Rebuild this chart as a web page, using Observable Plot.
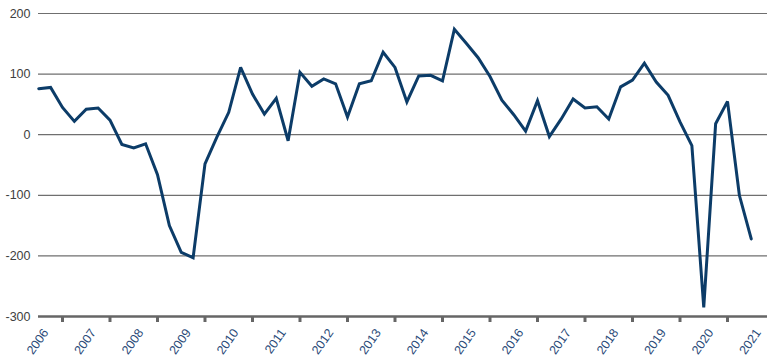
<!DOCTYPE html>
<html>
<head>
<meta charset="utf-8">
<script src="https://cdn.jsdelivr.net/npm/d3@7"></script>
<script src="https://cdn.jsdelivr.net/npm/@observablehq/plot@0.6"></script>
<style>
  html, body { margin: 0; padding: 0; background: #fff; }
  #chart svg { display: block; }
</style>
</head>
<body>
<div id="chart"></div>
<script>
const quarters = [
  "2006Q3","2006Q4",
  "2007Q1","2007Q2","2007Q3","2007Q4",
  "2008Q1","2008Q2","2008Q3","2008Q4",
  "2009Q1","2009Q2","2009Q3","2009Q4",
  "2010Q1","2010Q2","2010Q3","2010Q4",
  "2011Q1","2011Q2","2011Q3","2011Q4",
  "2012Q1","2012Q2","2012Q3","2012Q4",
  "2013Q1","2013Q2","2013Q3","2013Q4",
  "2014Q1","2014Q2","2014Q3","2014Q4",
  "2015Q1","2015Q2","2015Q3","2015Q4",
  "2016Q1","2016Q2","2016Q3","2016Q4",
  "2017Q1","2017Q2","2017Q3","2017Q4",
  "2018Q1","2018Q2","2018Q3","2018Q4",
  "2019Q1","2019Q2","2019Q3","2019Q4",
  "2020Q1","2020Q2","2020Q3","2020Q4",
  "2021Q1","2021Q2","2021Q3"
];
const values = [
  76, 78,
  45, 22, 42, 44,
  24, -16, -22, -15,
  -66, -150, -194, -203,
  -48, -4, 37, 111,
  67, 34, 60, -10,
  103, 80, 92, 84,
  29, 84, 89, 136,
  111, 54, 97, 98,
  89, 174, 151, 127,
  96, 57, 33, 6,
  56, -3, 26, 59,
  44, 46, 26, 79,
  90, 118, 87, 65,
  21, -18, -285, 18,
  55, -100, -172
];
const yearLabels = ["2006","2007","2008","2009","2010","2011","2012","2013","2014","2015","2016","2017","2018","2019","2020","2021"];
const yearTicks = [2007,2008,2009,2010,2011,2012,2013,2014,2015,2016,2017,2018,2019,2020,2021];
const yTicks = [200, 100, 0, -100, -200, -300];

const toNum = q => +q.slice(0, 4) + (+q.slice(5) - 1) / 4;
const data = quarters.map((q, i) => ({t: toNum(q), v: values[i]}));
const labelData = yearLabels.map(s => ({t: +s + 0.5, s}));

const chart = Plot.plot({
  width: 770,
  height: 364,
  marginLeft: 38,
  marginRight: 3,
  marginTop: 13,
  marginBottom: 48,
  style: {fontFamily: "'Liberation Sans', Arial, sans-serif", fontSize: "12px", background: "#fff"},
  x: {domain: [2006.495, 2021.842], axis: null},
  y: {domain: [-300, 200], axis: null},
  marks: [
    Plot.ruleY(yTicks.filter(d => d > -300), {stroke: "#6f6f6f", strokeWidth: 1.2}),
    Plot.axisY({ticks: yTicks, label: null, tickSize: 0, tickPadding: 8, fill: "#404040", fontSize: 12.5, tickFormat: d => String(d)}),
    Plot.ruleY([-300], {stroke: "#666", strokeWidth: 2.6}),
    Plot.axisX({ticks: yearTicks, label: null, tickSize: 6, stroke: "#666", strokeWidth: 3, tickFormat: () => "", anchor: "bottom"}),
    Plot.text(labelData, {
      x: "t", text: "s", frameAnchor: "bottom", dy: 11, dx: 3,
      rotate: -55, textAnchor: "end", lineAnchor: "top",
      fill: "#2a4a78", fontSize: 12.5
    }),
    Plot.line(data, {x: "t", y: "v", stroke: "#0c3c68", strokeWidth: 3, strokeLinejoin: "miter", strokeMiterlimit: 3})
  ]
});
document.getElementById("chart").appendChild(chart);
</script>
</body>
</html>
